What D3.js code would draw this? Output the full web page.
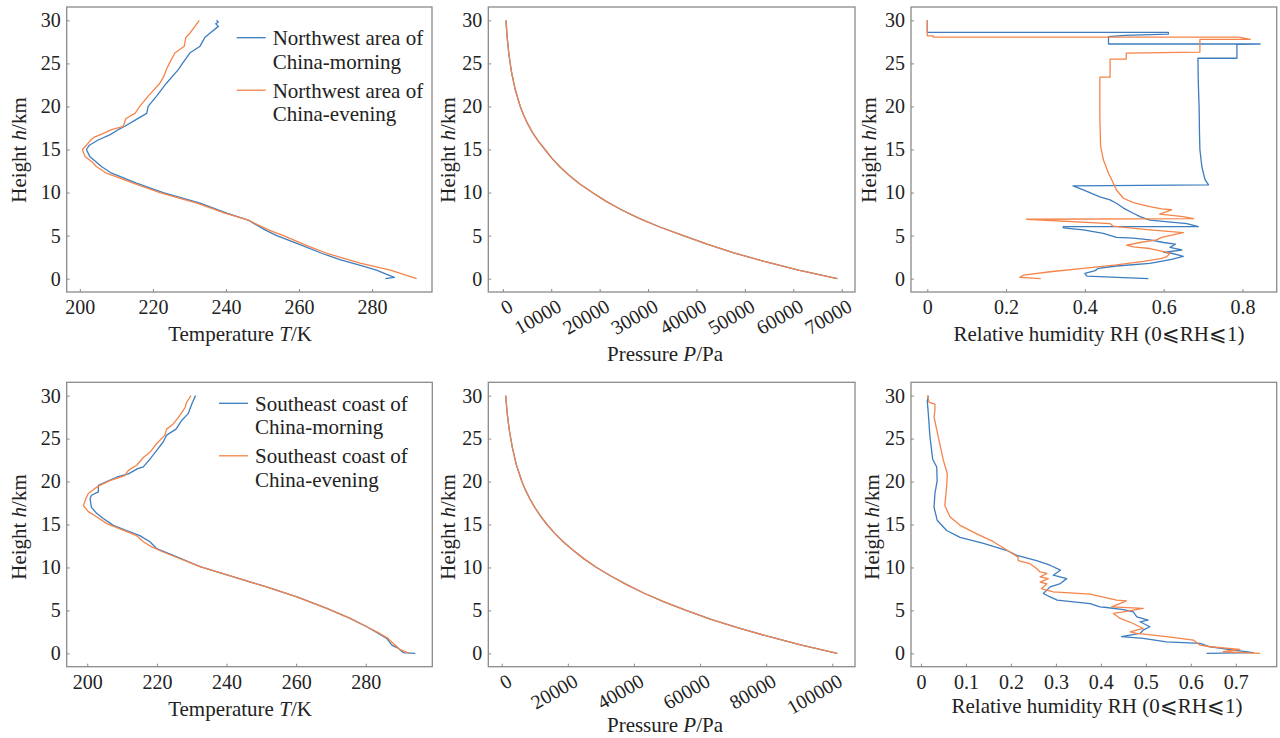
<!DOCTYPE html>
<html>
<head>
<meta charset="utf-8">
<script src="https://cdn.jsdelivr.net/npm/d3@7"></script>
<style>
  body { margin: 0; background: #fff; }
  svg { display: block; }
  text { font-family: "Liberation Serif", "Times New Roman", serif; fill: #222; }
</style>
</head>
<body>
<div id="chart"></div>
<script>
const width = 1280;
const height = 738;

// Hauteur (km) / valeur
const nwTempMorning = [[0, 283.6], [0.15, 286.1], [0.5, 284.0], [1.0, 281.2], [1.4, 278.0], [2.2, 271.2], [2.95, 266.2], [4.1, 259.4], [5.0, 253.9], [5.66, 250.7], [6.8, 246.1], [7.6, 240.2], [8.76, 232.9], [10.0, 222.8], [11.1, 215.5], [12.25, 208.7], [13.0, 206.0], [14.2, 202.7], [15.0, 201.8], [15.5, 202.6], [16.1, 205.0], [16.7, 208.2], [17.3, 210.5], [17.7, 212.3], [18.5, 215.5], [19.2, 218.3], [20.0, 218.7], [21.2, 221.0], [22.7, 223.7], [24.3, 227.0], [25.0, 228.1], [26.2, 230.1], [27.0, 232.9], [28.0, 234.2], [28.5, 235.6], [29.3, 237.9], [29.6, 237.2], [29.8, 237.9], [30, 237.4]];
const nwTempEvening = [[0, 292.2], [0.5, 288.6], [1.0, 285.0], [1.8, 276.7], [2.95, 267.6], [3.7, 263.0], [5.0, 255.7], [5.66, 251.6], [6.8, 246.1], [7.6, 239.7], [8.76, 232.0], [10.0, 221.9], [11.1, 214.6], [12.25, 207.3], [13.0, 204.6], [13.6, 203.2], [14.2, 201.4], [15.0, 200.7], [15.5, 201.8], [16.1, 203.0], [16.4, 203.8], [16.7, 205.5], [17.3, 208.7], [17.7, 211.9], [18.6, 212.6], [19.2, 215.1], [20.0, 216.4], [21.2, 218.7], [22.7, 221.9], [23.5, 223.0], [24.3, 223.7], [25.0, 224.5], [26.2, 226.0], [27.0, 228.6], [28.0, 229.0], [28.5, 230.1], [29.3, 231.5], [30, 232.7]];

const seTempMorning = [[0, 294.2], [0.08, 290.8], [0.58, 289.4], [0.97, 287.5], [1.74, 286.0], [2.32, 283.6], [3.1, 280.3], [4.07, 275.5], [5.23, 268.8], [6.58, 260.2], [7.74, 251.5], [8.9, 242.0], [10.1, 232.4], [11.4, 224.7], [12.2, 219.9], [13.0, 218.0], [13.7, 215.1], [14.3, 211.3], [14.9, 207.5], [15.7, 204.6], [16.3, 202.7], [17.0, 201.2], [18.0, 200.8], [18.4, 201.2], [18.8, 203.2], [19.55, 203.2], [19.9, 205.1], [20.5, 208.4], [20.9, 211.8], [21.5, 214.5], [21.7, 216.1], [22.6, 218.0], [23.6, 219.9], [24.6, 221.8], [25.4, 222.8], [26.1, 225.5], [27.1, 227.1], [27.9, 229.0], [29.0, 230.0], [30, 231.1]];
const seTempEvening = [[0, 292.5], [0.46, 289.8], [1.16, 287.9], [1.74, 286.4], [2.32, 284.0], [3.1, 280.3], [4.07, 275.5], [5.23, 268.8], [6.58, 260.2], [7.74, 251.5], [8.9, 242.0], [10.1, 232.4], [11.8, 221.8], [12.4, 218.5], [13.0, 216.1], [13.7, 214.2], [14.5, 209.4], [15.1, 205.6], [15.9, 202.7], [16.5, 200.3], [17.2, 198.9], [18.0, 199.6], [18.6, 200.3], [19.2, 202.2], [19.55, 203.6], [20.1, 206.5], [20.7, 210.8], [21.3, 211.8], [21.9, 214.2], [22.8, 216.1], [23.4, 218.0], [24.4, 219.9], [25.4, 222.3], [26.1, 222.8], [26.7, 224.7], [27.7, 226.6], [28.6, 228.1], [29.2, 228.5], [30, 229.8]];

// Pression (Pa) aux hauteurs de pressureHeights
const pressureHeights = [0, 1, 2, 3, 4, 5, 6, 7, 8, 9, 10, 11, 12, 13, 14, 15, 16, 17, 18, 19, 20, 22, 24, 26, 28, 30];
const nwPressure = [69100, 61080, 54000, 47730, 42190, 37300, 32410, 28170, 24480, 21270, 18500, 15910, 13690, 11770, 10120, 8700, 7290, 6110, 5120, 4290, 3600, 2540, 1790, 1270, 900, 650];
const sePressure = [101500, 90400, 80400, 71300, 63100, 55800, 49100, 43100, 37800, 33000, 28700, 24900, 21600, 18600, 16000, 13700, 11700, 10000, 8500, 7200, 6100, 4400, 3200, 2300, 1650, 1200];

const nwRhMorning = [[0, 0.561], [0.3, 0.405], [0.6, 0.40], [0.93, 0.426], [1.2, 0.434], [1.47, 0.48], [1.78, 0.565], [2.25, 0.62], [2.6, 0.65], [2.95, 0.62], [3.06, 0.60], [3.33, 0.646], [3.64, 0.616], [4.0, 0.63], [4.2, 0.60], [4.5, 0.565], [4.7, 0.523], [4.8, 0.48], [5.27, 0.447], [5.66, 0.396], [5.9, 0.345], [6.05, 0.345], [6.05, 0.688], [6.4, 0.659], [6.8, 0.565], [7.2, 0.54], [7.6, 0.523], [8.2, 0.498], [8.76, 0.48], [9.15, 0.464], [9.5, 0.438], [10.3, 0.396], [10.78, 0.37], [10.9, 0.714], [11.5, 0.705], [13, 0.697], [15, 0.692], [16.9, 0.691], [20, 0.69], [22.7, 0.688], [25.6, 0.687], [25.6, 0.786], [27.2, 0.786], [27.25, 0.845], [27.25, 0.46], [28.1, 0.46], [28.25, 0.502], [28.4, 0.612], [28.6, 0.612], [28.6, 0.0], [30, 0.0]];
const nwRhEvening = [[0, 0.288], [0.15, 0.235], [0.4, 0.244], [0.8, 0.312], [1.2, 0.396], [1.6, 0.48], [2.0, 0.549], [2.36, 0.595], [2.56, 0.608], [2.95, 0.616], [3.14, 0.60], [3.5, 0.565], [3.7, 0.523], [3.9, 0.506], [4.2, 0.54], [4.5, 0.582], [4.8, 0.595], [5.35, 0.65], [5.66, 0.565], [5.93, 0.506], [6.1, 0.472], [6.4, 0.464], [6.9, 0.252], [6.98, 0.676], [7.2, 0.65], [7.5, 0.59], [8.0, 0.62], [8.1, 0.595], [8.37, 0.565], [8.84, 0.523], [9.34, 0.498], [10.3, 0.48], [11.1, 0.472], [12.25, 0.46], [13.8, 0.447], [15.35, 0.44], [18.8, 0.438], [23.4, 0.438], [23.4, 0.464], [25.5, 0.464], [25.5, 0.505], [26.2, 0.505], [26.3, 0.692], [27.8, 0.692], [27.8, 0.82], [28.06, 0.79], [28.06, 0.015], [28.2, 0.015], [28.2, 0.0], [30, 0.0]];

const seRhMorning = [[30, 0.0163], [29.4, 0.014], [27.9, 0.0163], [25.2, 0.02], [22.6, 0.026], [21.7, 0.035], [20.1, 0.036], [18.6, 0.031], [17, 0.029], [15.5, 0.036], [14.3, 0.057], [13.5, 0.087], [12.8, 0.139], [12, 0.19], [11.4, 0.213], [11.2, 0.228], [10.8, 0.257], [10.26, 0.287], [9.68, 0.31], [9.1, 0.294], [8.7, 0.324], [8.13, 0.31], [7.74, 0.287], [7.36, 0.28], [6.97, 0.272], [6.58, 0.287], [6.2, 0.303], [5.8, 0.376], [5.42, 0.398], [5.34, 0.413], [5.1, 0.45], [4.84, 0.472], [4.26, 0.48], [3.87, 0.505], [3.68, 0.487], [3.1, 0.509], [2.7, 0.494], [2.32, 0.487], [1.94, 0.446], [1.74, 0.494], [1.35, 0.546], [1.16, 0.62], [0.77, 0.643], [0.39, 0.695], [0.08, 0.739], [0, 0.635]];
const seRhEvening = [[30, 0.014], [29.2, 0.0185], [29, 0.031], [28.3, 0.031], [27.5, 0.029], [25.2, 0.0385], [22.5, 0.0497], [20.9, 0.0586], [19.4, 0.057], [17.2, 0.053], [15.9, 0.0645], [14.9, 0.087], [13.9, 0.124], [13, 0.161], [11.8, 0.198], [11.2, 0.216], [10.8, 0.216], [10.45, 0.242], [9.87, 0.257], [9.48, 0.265], [9.3, 0.28], [8.9, 0.265], [8.7, 0.283], [8.3, 0.265], [8.1, 0.28], [7.55, 0.268], [7.16, 0.294], [6.9, 0.376], [6.2, 0.435], [6.1, 0.457], [5.42, 0.424], [5.23, 0.494], [4.84, 0.45], [4.65, 0.428], [4.07, 0.443], [3.48, 0.472], [2.9, 0.494], [2.5, 0.465], [2.32, 0.48], [1.94, 0.546], [1.55, 0.606], [0.97, 0.62], [0.77, 0.643], [0.46, 0.709], [0.19, 0.672], [0, 0.754]];

const heightTicks = [0, 5, 10, 15, 20, 25, 30];
const tempTicksNW = [200, 220, 240, 260, 280];
const tempTicksSE = [200, 220, 240, 260, 280];
const pressureTicksNW = [0, 10000, 20000, 30000, 40000, 50000, 60000, 70000];
const pressureTicksSE = [0, 20000, 40000, 60000, 80000, 100000];
const rhTicksNW = [0, 0.2, 0.4, 0.6, 0.8];
const rhTicksSE = [0, 0.1, 0.2, 0.3, 0.4, 0.5, 0.6, 0.7];

const legendNW = [["Northwest area of", "China-morning"], ["Northwest area of", "China-evening"]];
const legendSE = [["Southeast coast of", "China-morning"], ["Southeast coast of", "China-evening"]];

const colors = ["#3d7dbf", "#f5844a"];
const frameColor = "#8a8a8a";

const withHeights = vals => pressureHeights.map((h, i) => [h, vals[i]]);

const tempLabel = [["Temperature ", false], ["T", true], ["/K", false]];
const presLabel = [["Pressure ", false], ["P", true], ["/Pa", false]];
const rhLabel = [["Relative humidity RH (0⩽RH⩽1)", false]];

const rowTop = { top: 7, bottom: 292, xLabelY: 341, yLabelY: 150 };
const rowBot = { top: 382.3, bottom: 666.7, xLabelY: 716, yLabelY: 527 };

const panels = [
  { row: rowTop, left: 66.7, right: 432, xDomain: [196.4, 296.4], ticks: tempTicksNW, series: [nwTempMorning, nwTempEvening], label: tempLabel, labelX: 240, labelDy: 0, yLabelX: 26, legend: legendNW, legendPos: { x: 236.7, y: 37.7 } },
  { row: rowTop, left: 488.3, right: 855, xDomain: [-3000, 72750], ticks: pressureTicksNW, series: [withHeights(nwPressure), withHeights(nwPressure)], label: presLabel, labelX: 665, labelDy: 20, yLabelX: 455, rotate: true },
  { row: rowTop, left: 911, right: 1276.7, xDomain: [-0.0414, 0.887], ticks: rhTicksNW, series: [nwRhMorning, nwRhEvening], label: rhLabel, labelX: 1099, labelDy: 0, yLabelX: 876 },
  { row: rowBot, left: 66.7, right: 432.3, xDomain: [194.1, 299.1], ticks: tempTicksSE, series: [seTempMorning, seTempEvening], label: tempLabel, labelX: 240, labelDy: 0, yLabelX: 26, legend: legendSE, legendPos: { x: 219, y: 403.3 } },
  { row: rowBot, left: 488.3, right: 855, xDomain: [-4050, 106870], ticks: pressureTicksSE, series: [withHeights(sePressure), withHeights(sePressure)], label: presLabel, labelX: 665, labelDy: 16, yLabelX: 455, rotate: true },
  { row: rowBot, left: 911, right: 1276.7, xDomain: [-0.0222, 0.791], ticks: rhTicksSE, series: [seRhMorning, seRhEvening], label: rhLabel, labelX: 1097, labelDy: -3, yLabelX: 879 }
];

const svg = d3.select("#chart")
  .append("svg")
  .attr("width", width)
  .attr("height", height);

svg.append("rect").attr("width", width).attr("height", height).attr("fill", "#fff");

panels.forEach(p => {
  const x = d3.scaleLinear().domain(p.xDomain).range([p.left, p.right]);
  const y = d3.scaleLinear().domain([-1.55, 31.55]).range([p.row.bottom, p.row.top]);

  const g = svg.append("g");

  // Courbes : matin (bleu) puis soir (orange)
  const line = d3.line().x(d => x(d[1])).y(d => y(d[0]));
  p.series.forEach((s, i) => {
    g.append("path")
      .datum(s)
      .attr("d", line)
      .attr("fill", "none")
      .attr("stroke", colors[i])
      .attr("stroke-width", 1.3)
      .attr("stroke-linejoin", "round");
  });

  // Axe vertical
  const yAxis = g.append("g")
    .attr("transform", `translate(${p.left},0)`)
    .call(d3.axisLeft(y).tickValues(heightTicks).tickSizeInner(-3).tickSizeOuter(0).tickPadding(6));
  yAxis.select(".domain").remove();
  yAxis.selectAll("line").attr("stroke", frameColor);
  yAxis.selectAll("text").style("font-size", "20px").attr("fill", "#222");

  // Axe horizontal
  const xAxis = g.append("g")
    .attr("transform", `translate(0,${p.row.bottom})`)
    .call(d3.axisBottom(x).tickValues(p.ticks).tickFormat(d => String(d)).tickSizeInner(-3).tickSizeOuter(0).tickPadding(8));
  xAxis.select(".domain").remove();
  xAxis.selectAll("line").attr("stroke", frameColor);
  xAxis.selectAll("text").style("font-size", "20px").attr("fill", "#222");
  if (p.rotate) {
    xAxis.selectAll("text")
      .attr("x", 0)
      .attr("y", 0)
      .attr("dy", "0.71em")
      .attr("text-anchor", "end")
      .attr("transform", "translate(4,6) rotate(-30)");
  }

  // Cadre
  g.append("rect")
    .attr("x", p.left)
    .attr("y", p.row.top)
    .attr("width", p.right - p.left)
    .attr("height", p.row.bottom - p.row.top)
    .attr("fill", "none")
    .attr("stroke", frameColor)
    .attr("stroke-width", 1.3);

  // Titre de l'axe x
  const xl = g.append("text")
    .attr("x", p.labelX)
    .attr("y", p.row.xLabelY + p.labelDy)
    .attr("text-anchor", "middle")
    .style("font-size", "21px");
  p.label.forEach(([t, it]) => {
    xl.append("tspan").text(t).style("font-style", it ? "italic" : "normal");
  });

  // Titre de l'axe y
  const yl = g.append("text")
    .attr("transform", `translate(${p.yLabelX},${p.row.yLabelY}) rotate(-90)`)
    .attr("text-anchor", "middle")
    .style("font-size", "21px");
  yl.append("tspan").text("Height ");
  yl.append("tspan").text("h").style("font-style", "italic");
  yl.append("tspan").text("/km");

  // Légende
  if (p.legend) {
    p.legend.forEach((entry, i) => {
      const ly = p.legendPos.y + i * 52.5;
      g.append("line")
        .attr("x1", p.legendPos.x)
        .attr("x2", p.legendPos.x + 29)
        .attr("y1", ly)
        .attr("y2", ly)
        .attr("stroke", colors[i])
        .attr("stroke-width", 1.3);
      entry.forEach((t, j) => {
        g.append("text")
          .attr("x", p.legendPos.x + 36)
          .attr("y", ly + 7.5 + j * 23.5)
          .style("font-size", "21px")
          .text(t);
      });
    });
  }
});
</script>
</body>
</html>
